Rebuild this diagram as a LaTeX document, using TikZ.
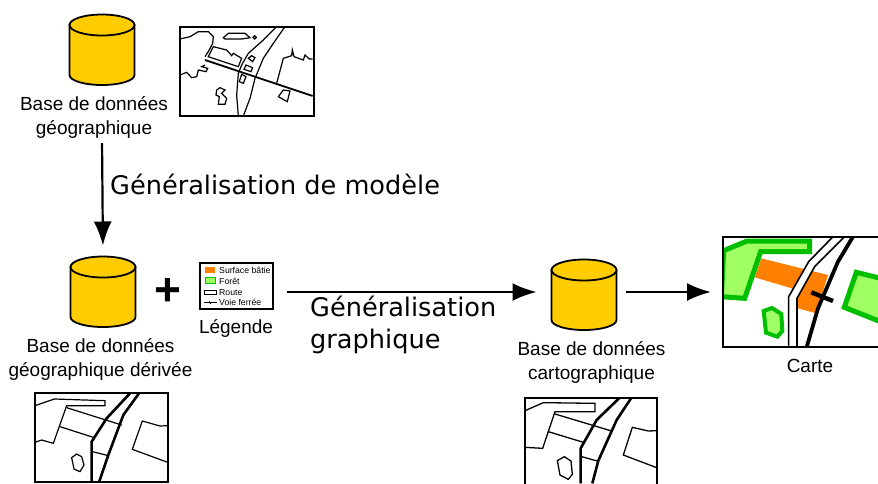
\documentclass[tikz,border=0pt]{standalone}
\usepackage{fontspec}
\setmainfont{Liberation Sans}
\newfontfamily\bigfont{DejaVu Sans}
\usetikzlibrary{arrows.meta}
\definecolor{dbyellow}{RGB}{255,204,0}
\definecolor{bati}{RGB}{255,128,0}
\definecolor{foret}{RGB}{0,190,0}
\definecolor{foretfill}{RGB}{160,255,100}
\tikzset{
  bdd/.style={minimum width=65pt,minimum height=71pt,inner sep=0pt,outer sep=0pt},
  lbl/.style={font=\fontsize{19}{24}\selectfont,align=center,inner sep=0pt},
  biglbl/.style={font=\bigfont\fontsize{25.6}{32}\selectfont,align=left,inner sep=0pt,anchor=west},
  leg/.style={font=\fontsize{8.7}{8.7}\selectfont,inner sep=0pt,anchor=west},
  cadre/.style={draw,line width=1.6pt,inner sep=0pt,outer sep=0pt},
  fleche/.style={-{Latex[length=24pt,width=18pt]},line width=2.2pt},
  zoomed/.style={x=0.3333pt,y=-0.3333pt},
}
% database drum: name, x, y
\newcommand{\bddnode}[3]{
  \node[bdd] (#1) at (#2,#3) {};
  \draw[line width=1.8pt,fill=dbyellow] (#2-32.5,#3-25) -- (#2-32.5,#3+25) arc (180:0:32.5 and 10) -- (#2+32.5,#3-25) -- cycle;
  \draw[line width=1.8pt,fill=dbyellow] (#2,#3-25) ellipse (32.5 and 10.5);
}
\begin{document}
\begin{tikzpicture}[x=1pt,y=-1pt]
  \useasboundingbox (0,0) rectangle (878,483);
  % Databases
  \bddnode{bddgeo}{102}{50}
  \bddnode{bdderivee}{103}{292}
  \bddnode{bddcarto}{584}{295}
  % Labels under the databases
  \node[lbl] (lblgeo) at (94,117) {Base de données\\géographique};
  \node[lbl] (lblderivee) at (100.5,359) {Base de données\\géographique dérivée};
  \node[lbl] (lblcarto) at (591.5,362.5) {Base de données\\cartographique};
  % Process labels
  \node[biglbl] (lblmodele) at (110,184) {Généralisation de modèle};
  \node[biglbl] (lblgraphique) at (310,325) {Généralisation\\graphique};
  \node[font=\bfseries\fontsize{46}{46}\selectfont,inner sep=0pt] (plus) at (168,292) {+};
  % Map of the source database
  \node[cadre,minimum width=134pt,minimum height=89pt] (cartegeo) at (247,71.5) {};
  \begin{scope}[shift={(170,15)},zoomed,line width=1.2pt]
    \draw (30,72) -- (60,65) -- (85,50) -- (115,50) -- (130,65) -- (128,85) -- (115,110) -- (105,125);
    \draw (105,150) -- (95,155) -- (113,160) -- (108,170) -- (85,165) -- (80,185) -- (65,188) -- (50,172) -- (30,180);
    \draw (130,95) -- (115,125) -- (205,155) -- (215,130) -- (190,115) -- (185,122) -- (170,105) -- cycle;
    \draw (160,68) -- (175,55) -- (225,55) -- (240,68) -- (215,72) -- (165,72) -- cycle;
    \draw (254,67) circle (5);
    \draw (235,130) -- (245,122) -- (255,128) -- (248,140) -- cycle;
    \draw (222,163) -- (228,150) -- (248,158) -- (243,170) -- cycle;
    \draw (208,200) -- (215,178) -- (228,185) -- (220,205) -- cycle;
    \draw (320,205) -- (340,130) -- (365,122) -- (367,105) -- (372,125) -- (400,135) -- (405,120) -- (418,132) -- (428,132);
    \draw (325,245) -- (340,225) -- (360,228) -- (352,260) -- cycle;
    \draw (140,225) -- (150,218) -- (165,225) -- (155,235) -- (170,250) -- (165,268) -- (145,268) -- (148,245) -- (138,240) -- cycle;
    \draw (320,35) -- (280,75) -- (235,115) -- (215,150) -- (205,175) -- (200,240) -- (205,303);
    \draw (345,35) -- (310,85) -- (280,130) -- (255,190) -- (240,250) -- (220,303);
    \draw[line width=1.8pt] (105,135) -- (428,243);
  \end{scope}
  % Map of the derived database
  \node[cadre,minimum width=133pt,minimum height=89pt] (cartederivee) at (101.5,437.5) {};
  \begin{scope}[shift={(25,385)},zoomed,line width=1.2pt]
    \draw (30,62) -- (88,42) -- (240,47) -- (240,62) -- (125,62) -- (85,175) -- (50,165) -- (30,172);
    \draw (125,68) -- (290,120);
    \draw (105,125) -- (208,158);
    \draw (203,200) -- (250,212);
    \draw (428,122) -- (405,123) -- (352,108) -- (322,193) -- (428,232);
    \draw (140,218) -- (155,207) -- (170,215) -- (177,240) -- (165,260) -- (147,252) -- cycle;
    \draw[line width=2.6pt] (315,25) -- (245,100) -- (200,170) -- (200,292);
    \draw[line width=2.6pt] (342,25) -- (295,90) -- (250,210) -- (222,292);
  \end{scope}
  % Map of the cartographic database
  \node[cadre,minimum width=132pt,minimum height=100pt] (cartecarto) at (591,448) {};
  \begin{scope}[shift={(515,390)},zoomed,line width=1.3pt]
    \draw (30,62) -- (85,38) -- (240,40) -- (240,65) -- (120,65) -- (83,175) -- (30,172);
    \draw (120,72) -- (290,123);
    \draw (100,125) -- (205,157);
    \draw (200,200) -- (250,214);
    \draw (425,122) -- (400,123) -- (352,112) -- (325,195) -- (425,233);
    \draw (127,212) -- (148,200) -- (168,213) -- (172,253) -- (160,268) -- (135,255) -- cycle;
    \draw[line width=2.6pt] (312,25) -- (245,90) -- (197,175) -- (197,280);
    \draw[line width=2.6pt] (348,25) -- (305,90) -- (250,212) -- (232,280);
  \end{scope}
  % Legend
  \node[cadre,fill=white,minimum width=73pt,minimum height=46pt] (legende) at (236.5,286) {};
  \begin{scope}[shift={(190,250)},zoomed]
    \fill[bati] (45,50) rectangle (75,70);
    \draw[foret,fill=foretfill,line width=1pt] (46,83) rectangle (75,101);
    \draw[line width=1pt] (42,122) rectangle (80,134);
    \draw[line width=1pt] (42,158) -- (80,158);
    \draw[line width=1pt] (58,154) -- (62,162);
  \end{scope}
  \node[leg] (legbati) at (219,270) {Surface bâtie};
  \node[leg] (legforet) at (219,281) {Forêt};
  \node[leg] (legroute) at (219,292.5) {Route};
  \node[leg] (legfer) at (219,302.5) {Voie ferrée};
  \node[lbl] (lbllegende) at (236,328) {Légende};
  % Final map
  \begin{scope}
    \clip (723,237) rectangle (880,347);
    \begin{scope}[shift={(718,230)},zoomed]
      \fill[bati] (130,85) -- (330,135) -- (295,250) -- (240,235) -- (238,180) -- (110,142) -- cycle;
      \draw[foret,fill=foretfill,line width=5pt] (17,62) -- (87,33) -- (275,33) -- (275,65) -- (128,65) -- (80,205) -- (10,200) -- cycle;
      \draw[foret,fill=foretfill,line width=5pt] (415,127) -- (500,148) -- (500,280) -- (379,232) -- cycle;
      \draw[foret,fill=foretfill,line width=4pt] (137,243) -- (162,234) -- (190,252) -- (193,303) -- (178,320) -- (144,308) -- cycle;
      \fill[white] (350,15) -- (272,95) -- (212,200) -- (212,355) -- (237,355) -- (237,205) -- (290,110) -- (385,15) -- cycle;
      \draw[line width=1.6pt] (350,15) -- (272,95) -- (212,200) -- (212,355);
      \draw[line width=1.6pt] (385,15) -- (290,110) -- (237,205) -- (237,355);
      \draw[line width=3.8pt] (408,15) -- (360,95) -- (300,235) -- (265,355);
      \draw[line width=4.4pt] (280,187) -- (345,213);
    \end{scope}
  \end{scope}
  \node[cadre,minimum width=165pt,minimum height=110pt,anchor=west] (carte) at (723,292) {};
  \node[lbl] (lblcarte) at (810,366) {Carte};
  % Arrows
  \draw[fleche,shorten <=5pt,shorten >=11pt] (bddgeo.center |- lblgeo.south) -- (bdderivee.north);
  \draw[fleche,shorten <=14pt,shorten >=15pt] (legende.east |- bdderivee.center) -- (bddcarto.west |- bdderivee.center);
  \draw[fleche,shorten <=9pt,shorten >=12pt] (bddcarto.east |- carte.west) -- (carte.west);
\end{tikzpicture}
\end{document}
